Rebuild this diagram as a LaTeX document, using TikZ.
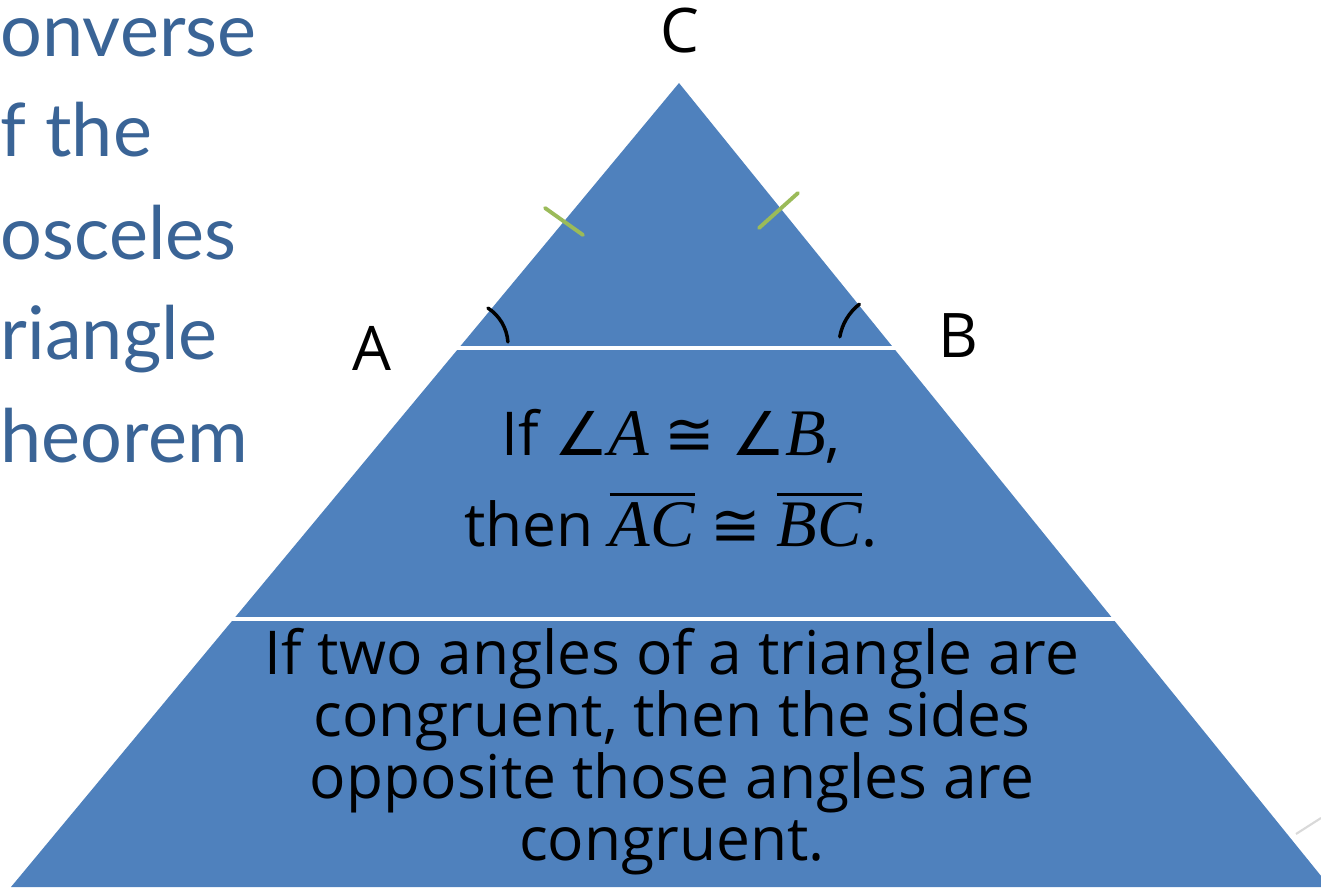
\documentclass[tikz,border=0pt]{standalone}
\usepackage{fix-cm}
\usepackage{amsmath,amssymb}
\usepackage{fontspec}
\setmainfont{Open Sans}
\newfontfamily\titlefont{Lato}
\newfontfamily\symfont{DejaVu Sans}
\newfontfamily\varfont{Liberation Serif}[Scale=1.1]
\newcommand\figvar[1]{{\varfont\itshape #1}}
\newcommand\figsym[1]{{\symfont #1}}
\newcommand\figbar[1]{$\overline{\hbox{\figvar{#1}}}$}
\usetikzlibrary{calc}
\definecolor{pyrblue}{HTML}{4F81BD}
\definecolor{titleblue}{HTML}{3A6496}
\definecolor{tickgreen}{HTML}{9BBB59}
\tikzset{
  figtext/.style={font=\fontsize{17.2}{17.64}\selectfont, align=center, inner sep=0pt},
  figvertex/.style={font=\fontsize{17.5}{18}\selectfont, inner sep=0pt},
  figtitle/.style={font=\titlefont\fontsize{21}{22}\selectfont, text=titleblue, anchor=base west, inner sep=0pt},
  figtick/.style={tickgreen, line width=1.1pt, line cap=round},
  figarc/.style={black, line width=1pt, line cap=round},
  figgap/.style={white, line width=1.4pt},
}

\begin{document}
\begin{tikzpicture}[x=0.1mm, y=-0.1mm]
  \useasboundingbox (0,0) rectangle (1321,889);
  % title, cut at the left edge
  \node[figtitle] (t1) at (0,57) {onverse};
  \node[figtitle] (t2) at (0,157) {f the};
  \node[figtitle] (t3) at (0,260) {osceles};
  \node[figtitle] (t4) at (0,360) {riangle};
  \node[figtitle] (t5) at (0,463) {heorem};
  % pyramid
  \coordinate (apex) at (679,83);
  \coordinate (footl) at (11,887);
  \coordinate (footr) at (1330,887);
  \fill[pyrblue] (apex) -- (footl) -- (footr) -- cycle;
  \coordinate (gapal) at (420,348);
  \coordinate (gapar) at (940,348);
  \coordinate (gapbl) at (200,619);
  \coordinate (gapbr) at (1150,619);
  \draw[figgap] (gapal) -- (gapar);
  \draw[figgap] (gapbl) -- (gapbr);
  % vertices
  \coordinate (va) at (464,345);
  \coordinate (vb) at (892,346);
  \node[figvertex] (labc) at (680,31) {C};
  \node[figvertex] (laba) at (372,348) {A};
  \node[figvertex] (labb) at (958,336) {B};
  % marks
  \coordinate (tl1) at (545,208); \coordinate (tl2) at (583,235);
  \coordinate (tr1) at (759,228); \coordinate (tr2) at (798,193);
  \draw[figtick] (tl1) -- (tl2);
  \draw[figtick] (tr1) -- (tr2);
  \draw[figarc] ($(va)+(-57:44)$) arc[start angle=-57, end angle=-4, radius=44];
  \draw[figarc] ($(vb)+(-128:53)$) arc[start angle=-128, end angle=-170, radius=53];
  % texts
  \node[figtext, anchor=base] (if1) at (671,456) {If \figsym{∠}\figvar{A} \figsym{≅} \figsym{∠}\figvar{B},};
  \node[figtext, anchor=base] (if2) at (671,547) {then \figbar{AC} \figsym{≅} \figbar{BC}.};
  \node[figtext] (thm) at (672,752) {If two angles of a triangle are\\congruent, then the sides\\opposite those angles are\\congruent.};
  % slide edge
  \coordinate (edge1) at (1296,834);
  \coordinate (edge2) at (1321,818);
  \draw[black!15, line width=0.6pt] (edge1) -- (edge2);
\end{tikzpicture}
\end{document}
